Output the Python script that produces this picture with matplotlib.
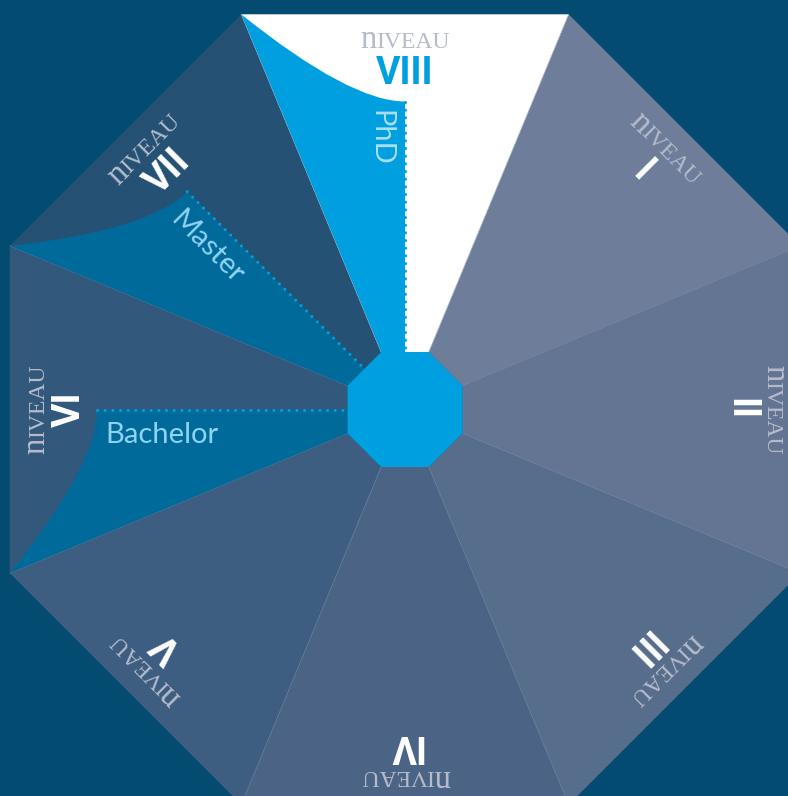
import numpy as np
import matplotlib
matplotlib.use('Agg')
import matplotlib.pyplot as plt
from matplotlib.path import Path
from matplotlib.patches import PathPatch, Polygon

# ---- data ----
levels = ['I', 'II', 'III', 'IV', 'V', 'VI', 'VII', 'VIII']
level_colors = ['#6e7d99', '#637592', '#576d8c', '#4b6485',
                '#3e5e81', '#32597b', '#255274', '#ffffff']
numeral_colors = ['#ffffff'] * 7 + ['#009fe0']
word_head, word_tail = 'n', 'IVEAU'
degrees = ['Bachelor', 'Master', 'PhD']
degree_levels = ['VI', 'VII', 'VIII']
degree_fill_colors = ['#006b9b', '#006b9b', '#009fe0']
degree_text_colors = ['#8fd3f2', '#8fd3f2', '#a9def6']

# ---- style / geometry ----
BG = '#034b71'
CENTER_BLUE = '#009fe0'
WORD_COLOR = '#b6bbcc'
cx, cy = 405.0, 409.5
a_in, a_out = 57.5, 395.0
t = np.tan(np.radians(22.5))
u_end, ctrl_v = 308.0, 55.0
WORD_FS, HEAD_FS = 17.0, 23.5

fig = plt.figure(figsize=(7.88, 7.96), dpi=100, facecolor=BG)
ax = fig.add_axes([0, 0, 1, 1])
ax.set_xlim(0, 788)
ax.set_ylim(796, 0)
ax.axis('off')
ax.set_facecolor(BG)
renderer = fig.canvas.get_renderer()


def to_xy(theta, u, v):
    th = np.radians(theta)
    eu = (np.cos(th), -np.sin(th))
    ev = (-np.sin(th), -np.cos(th))
    return (cx + u * eu[0] + v * ev[0], cy + u * eu[1] + v * ev[1])


def theta_of(k):
    return 90 - 45 * (k + 1)


def text_width(s, **kw):
    tt = ax.text(0, 0, s, **kw)
    w = tt.get_window_extent(renderer).width
    tt.remove()
    return w


# segments
for k, (lvl, col) in enumerate(zip(levels, level_colors)):
    th = theta_of(k)
    pts = [to_xy(th, a_in, -t * a_in), to_xy(th, a_out, -t * a_out),
           to_xy(th, a_out, t * a_out), to_xy(th, a_in, t * a_in)]
    ax.add_patch(Polygon(pts, closed=True, facecolor=col,
                         edgecolor=col, lw=0.3, zorder=1))
# subtle radial boundaries
for k in range(len(levels)):
    th = theta_of(k)
    p0 = to_xy(th, a_in, t * a_in)
    p1 = to_xy(th, a_out, t * a_out)
    ax.plot([p0[0], p1[0]], [p0[1], p1[1]], color='#8196b3', lw=0.5,
            alpha=0.7, zorder=1.5)

# degree fills + dotted lines + labels
for deg, dl, fc, tc in zip(degrees, degree_levels, degree_fill_colors, degree_text_colors):
    k = levels.index(dl)
    th = theta_of(k)
    verts = [to_xy(th, a_in, t * a_in), to_xy(th, a_out, t * a_out),
             to_xy(th, u_end, ctrl_v), to_xy(th, u_end, 0),
             to_xy(th, a_in, 0), to_xy(th, a_in, t * a_in)]
    codes = [Path.MOVETO, Path.LINETO, Path.CURVE3, Path.CURVE3,
             Path.LINETO, Path.CLOSEPOLY]
    ax.add_patch(PathPatch(Path(verts, codes), facecolor=fc,
                           edgecolor='none', zorder=2))
    p0 = to_xy(th, u_end, 0)
    p1 = to_xy(th, a_in, 0)
    ax.plot([p0[0], p1[0]], [p0[1], p1[1]], color=CENTER_BLUE, lw=2.2,
            linestyle=(0, (0.01, 2.5)), dash_capstyle='round',
            solid_capstyle='round', zorder=3)
    x, y = to_xy(th, 300, 25)
    ax.text(x, y, deg, rotation=th - 180, rotation_mode='anchor',
            ha='left', va='center', color=tc, fontsize=21,
            family='Lato', zorder=5)

# inner octagon
R_in = a_in / np.cos(np.radians(22.5))
oct_pts = [(cx + R_in * np.cos(np.radians(22.5 + 45 * i)),
            cy - R_in * np.sin(np.radians(22.5 + 45 * i))) for i in range(8)]
ax.add_patch(Polygon(oct_pts, closed=True, facecolor=CENTER_BLUE,
                     edgecolor='none', zorder=4))

# level labels
serif = dict(family='Liberation Serif', color=WORD_COLOR)
w_head = text_width(word_head, fontsize=HEAD_FS, **serif)
w_tail = text_width(word_tail, fontsize=WORD_FS, **serif)
total = w_head + w_tail
BASE_U = 361  # baseline radius of the word
for k, (lvl, nc) in enumerate(zip(levels, numeral_colors)):
    th = theta_of(k)
    split_v = total / 2 - w_head
    x, y = to_xy(th, BASE_U, split_v)
    ax.text(x, y, word_head, rotation=th - 90, rotation_mode='anchor',
            ha='right', va='baseline', fontsize=HEAD_FS, zorder=5, **serif)
    ax.text(x, y, word_tail, rotation=th - 90, rotation_mode='anchor',
            ha='left', va='baseline', fontsize=WORD_FS, zorder=5, **serif)
    x, y = to_xy(th, 336, 0)
    ax.text(x, y, lvl, rotation=th - 90, rotation_mode='anchor',
            ha='center', va='center', color=nc, fontsize=27,
            family='Roboto', fontweight='bold', zorder=5)

fig.savefig('out.png', dpi=100, facecolor=BG)
